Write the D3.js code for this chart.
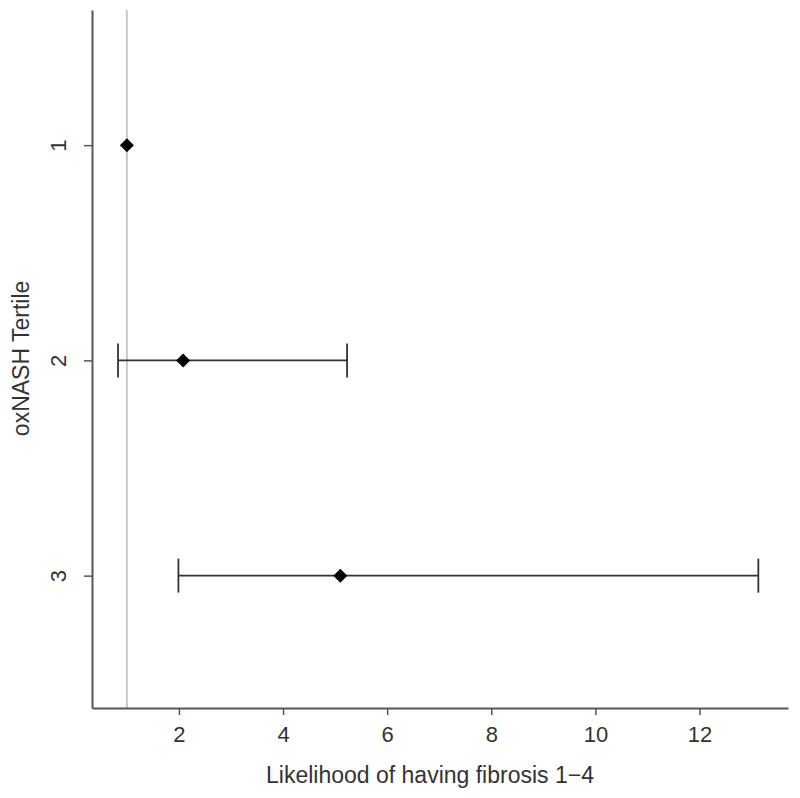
<!DOCTYPE html>
<html>
<head>
<meta charset="utf-8">
<script src="https://cdn.jsdelivr.net/npm/d3@7"></script>
<style>
  body { margin: 0; background: #fff; }
  text { font-family: "Liberation Sans", Arial, sans-serif; fill: #333; }
</style>
</head>
<body>
<div id="chart"></div>
<script>
// tertile categories and odds ratio estimates with CI
var tertiles = [1, 2, 3];
var estimates = [1.0, 2.08, 5.10];
var lowerCI = [1.0, 0.83, 1.99];
var upperCI = [1.0, 5.23, 13.13];
var xTicks = [2, 4, 6, 8, 10, 12];

var margin = {top: 10, right: 12, bottom: 90, left: 92},
    width = 800 - margin.left - margin.right,
    height = 798 - margin.top - margin.bottom;

var svg = d3.select("#chart")
  .append("svg")
    .attr("width", width + margin.left + margin.right)
    .attr("height", height + margin.top + margin.bottom)
  .append("g")
    .attr("transform", "translate(" + margin.left + "," + margin.top + ")");

var x = d3.scaleLinear().domain([0.33, 13.7]).range([0, width]);
var y = d3.scaleLinear().domain([0.372, 3.615]).range([0, height]);

var data = tertiles.map(function(t, i) {
  return {t: t, est: estimates[i], lo: lowerCI[i], hi: upperCI[i]};
});

// reference line at 1
svg.append("line")
  .attr("x1", x(1)).attr("x2", x(1))
  .attr("y1", 0).attr("y2", height)
  .attr("stroke", "#c8c8c8").attr("stroke-width", 2);

// x axis
var xAxis = svg.append("g")
  .attr("transform", "translate(0," + height + ")")
  .call(d3.axisBottom(x).tickValues(xTicks).tickSize(7).tickPadding(11).tickSizeOuter(0));
xAxis.select(".domain").attr("stroke", "#555").attr("stroke-width", 2);
xAxis.selectAll(".tick line").attr("stroke", "#555").attr("stroke-width", 1.5);
xAxis.selectAll("text").attr("font-size", 22).attr("fill", "#333");

// y axis
var yAxis = svg.append("g")
  .call(d3.axisLeft(y).tickValues(tertiles).tickFormat(d3.format("d"))
    .tickSize(8).tickPadding(10).tickSizeOuter(0));
yAxis.select(".domain").attr("stroke", "#555").attr("stroke-width", 2);
yAxis.selectAll(".tick line").attr("stroke", "#555").attr("stroke-width", 1.5);
yAxis.selectAll("text")
  .attr("font-size", 22).attr("fill", "#333")
  .attr("transform", "rotate(-90)")
  .attr("x", 0).attr("y", -34)
  .attr("dy", "0.35em")
  .attr("text-anchor", "middle");

// axis titles
svg.append("text")
  .attr("x", 338).attr("y", height + 75)
  .attr("text-anchor", "middle")
  .attr("font-size", 23)
  .text("Likelihood of having fibrosis 1\u22124");

svg.append("text")
  .attr("transform", "translate(" + (-71) + "," + (y(2) - 2) + ") rotate(-90)")
  .attr("text-anchor", "middle")
  .attr("dy", "0.35em")
  .attr("font-size", 23)
  .text("oxNASH Tertile");

// error bars
var bars = data.filter(function(d) { return d.hi > d.lo; });
svg.selectAll(".ci")
  .data(bars).enter().append("line")
  .attr("class", "ci")
  .attr("x1", function(d) { return x(d.lo); })
  .attr("x2", function(d) { return x(d.hi); })
  .attr("y1", function(d) { return y(d.t); })
  .attr("y2", function(d) { return y(d.t); })
  .attr("stroke", "#333").attr("stroke-width", 1.6);

["lo", "hi"].forEach(function(k) {
  svg.selectAll(".cap-" + k)
    .data(bars).enter().append("line")
    .attr("x1", function(d) { return x(d[k]); })
    .attr("x2", function(d) { return x(d[k]); })
    .attr("y1", function(d) { return y(d.t) - 17; })
    .attr("y2", function(d) { return y(d.t) + 17; })
    .attr("stroke", "#333").attr("stroke-width", 1.8);
});

// diamonds
svg.selectAll(".pt")
  .data(data).enter().append("path")
  .attr("class", "pt")
  .attr("transform", function(d) { return "translate(" + x(d.est) + "," + y(d.t) + ")"; })
  .attr("d", "M0,-7L7,0L0,7L-7,0Z")
  .attr("fill", "#000");
</script>
</body>
</html>
